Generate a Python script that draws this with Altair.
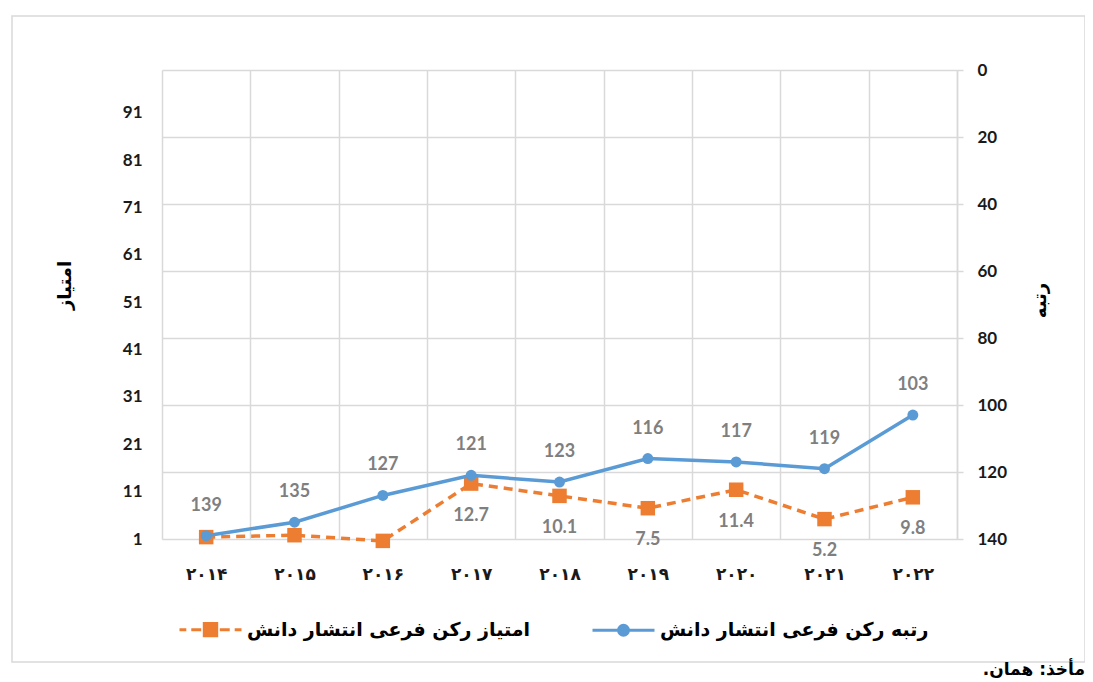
import altair as alt
import pandas as pd

years = ["۲۰۱۴", "۲۰۱۵", "۲۰۱۶", "۲۰۱۷", "۲۰۱۸", "۲۰۱۹", "۲۰۲۰", "۲۰۲۱", "۲۰۲۲"]
rank = [139, 135, 127, 121, 123, 116, 117, 119, 103]
score = [1.4, 1.8, 0.6, 12.7, 10.1, 7.5, 11.4, 5.2, 9.8]
score_labels = ["", "", "", "12.7", "10.1", "7.5", "11.4", "5.2", "9.8"]
rank_labels = ["139", "135", "127", "121", "123", "116", "117", "119", "103"]
series_names = ["امتیاز رکن فرعی انتشار دانش", "رتبه رکن فرعی انتشار دانش"]
series_colors = ["#ED7D31", "#5B9BD5"]
left_ticks = [1, 11, 21, 31, 41, 51, 61, 71, 81, 91]
right_ticks = [0, 20, 40, 60, 80, 100, 120, 140]
left_title = "امتیاز"
right_title = "رتبه"
source_note = ["مأخذ: همان.\u200f"]

ORANGE, BLUE = series_colors
GRAY = "#7F7F7F"
GRID = "#D9D9D9"
FA = "DejaVu Sans"
NUM = "Lato"

df = pd.DataFrame({
    "year": years, "rank": rank, "score": score,
    "score_label": score_labels, "rank_label": rank_labels,
})

x_enc = alt.X(
    "year:N", sort=years,
    scale=alt.Scale(type="band", paddingInner=0, paddingOuter=0),
    axis=alt.Axis(
        title=None, grid=True, tickBand="extent", ticks=False, tickSize=0,
        domain=False, gridColor=GRID, gridWidth=1.5, labelAngle=0,
        labelFont=FA, labelFontSize=17, labelFontWeight="bold",
        labelColor="#1a1a1a", labelPadding=27,
    ),
)

y_score = alt.Y(
    "score:Q",
    scale=alt.Scale(domain=[1, 100], nice=False, zero=False),
    axis=alt.Axis(
        values=left_ticks, grid=False, ticks=False, domain=False,
        labelFont=NUM, labelFontSize=17, labelFontWeight="bold",
        labelColor="#1a1a1a", labelPadding=20,
        title=left_title, titleFont=FA, titleFontSize=18, titleFontWeight="bold",
        titleColor="#000", titleAngle=270, titleX=-97, titleY=215,
        titleAlign="center", titleBaseline="middle",
    ),
)

y_rank = alt.Y(
    "rank:Q",
    scale=alt.Scale(domain=[0, 140], reverse=True, nice=False),
    axis=alt.Axis(
        orient="right", values=right_ticks, grid=True, gridColor=GRID, gridWidth=1.5,
        ticks=True, tickSize=6, tickColor=GRID, tickWidth=1.5,
        domain=True, domainColor=GRID, domainWidth=1.5,
        labelFont=NUM, labelFontSize=17, labelFontWeight="bold",
        labelColor="#1a1a1a", labelPadding=14,
        title=right_title, titleFont=FA, titleFontSize=18, titleFontWeight="bold",
        titleColor="#000", titleAngle=270, titleX=83, titleY=230,
        titleAlign="center", titleBaseline="middle",
    ),
)

base = alt.Chart(df)

orange = alt.layer(
    base.mark_line(color=ORANGE, strokeWidth=3.5, strokeDash=[9, 6]).encode(x=x_enc, y=y_score),
    base.mark_point(shape="square", filled=True, opacity=1, color=ORANGE, size=210).encode(x=x_enc, y=y_score),
    base.transform_filter("datum.score_label != ''").mark_text(
        dy=32, color=GRAY, font=NUM, fontSize=18, fontWeight="bold"
    ).encode(x=x_enc, y=y_score, text="score_label:N"),
)

blue = alt.layer(
    base.mark_line(color=BLUE, strokeWidth=3.5).encode(x=x_enc, y=y_rank),
    base.mark_point(shape="circle", filled=True, opacity=1, color=BLUE, size=120).encode(x=x_enc, y=y_rank),
    base.mark_text(
        dy=-30, color=GRAY, font=NUM, fontSize=18, fontWeight="bold"
    ).encode(x=x_enc, y=y_rank, text="rank_label:N"),
)

orange_path = ("M-1,0H-0.78M-0.62,0H-0.3M0.3,0H0.62M0.78,0H1"
               "M-0.2,-0.2H0.2V0.2H-0.2Z")
blue_path = ("M-1,0H1M-0.16,0A0.16,0.16,0,1,1,0.16,0A0.16,0.16,0,1,1,-0.16,0Z")

legend = alt.Legend(
    orient="none", legendX=16, legendY=527, direction="horizontal", title=None,
    padding=0, symbolSize=3844, symbolStrokeWidth=3, symbolOpacity=1,
    labelFont=FA, labelFontSize=19, labelFontWeight="bold", labelColor="#000",
    labelOffset=4, labelLimit=500, columnPadding=56,
)

legend_df = pd.DataFrame({"series": series_names})
legend_layer = alt.Chart(legend_df).transform_filter("false").mark_point(
    filled=False, opacity=1, strokeWidth=3
).encode(
    stroke=alt.Stroke("series:N", scale=alt.Scale(domain=series_names, range=series_colors), legend=legend),
    fill=alt.Fill("series:N", scale=alt.Scale(domain=series_names, range=series_colors), legend=legend),
    shape=alt.Shape("series:N", scale=alt.Scale(domain=series_names, range=[orange_path, blue_path]), legend=legend),
)

frame = alt.Chart(pd.DataFrame({"k": [0]})).mark_rect(
    fill="transparent", stroke=GRID, strokeWidth=1.5
).encode(x=alt.value(-150), x2=alt.value(923), y=alt.value(-54), y2=alt.value(592))

note = alt.Chart(pd.DataFrame({"t": source_note})).mark_text(
    align="right", baseline="middle", font=FA, fontSize=17, fontWeight="bold", color="#000"
).encode(x=alt.value(923), y=alt.value(600), text="t:N")

chart = alt.layer(frame, orange, blue, legend_layer, note).resolve_scale(
    y="independent"
).properties(
    width=795, height=469,
    autosize=alt.AutoSizeParams(type="none"),
    padding={"left": 154, "top": 62, "right": 128, "bottom": 143},
).configure_view(stroke=None)

chart.save("out.html", embed_options={"renderer": "svg", "actions": False})
